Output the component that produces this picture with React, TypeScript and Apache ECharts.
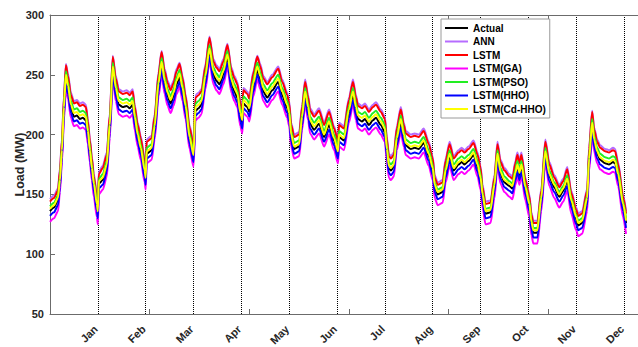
import React, { useEffect, useRef } from 'react';
import * as echarts from 'echarts';

const months = ['Jan', 'Feb', 'Mar', 'Apr', 'May', 'Jun', 'Jul', 'Aug', 'Sep', 'Oct', 'Nov', 'Dec'];

const hours = [
  0, 4, 8, 10, 12, 14, 16, 18, 21, 24, 27, 30, 33, 36, 38, 40, 42, 44, 47, 48,
  49, 53, 57, 60, 63, 66, 69, 73, 77, 80, 83, 85, 88, 91, 95, 96, 97, 102, 105, 109,
  112, 115, 118, 121, 124, 127, 130, 133, 136, 140, 144, 146, 149, 152, 156, 160, 164, 167, 170, 174,
  178, 182, 185, 188, 191, 193, 194, 198, 200, 204, 208, 211, 214, 218, 223, 229, 233, 238, 240, 242,
  245, 250, 253, 256, 259, 261, 265, 270, 275, 280, 285, 289, 290, 295, 300, 304, 307, 309, 313, 316,
  320, 324, 327, 332, 336, 338, 340, 342, 345, 348, 352, 355, 357, 362, 366, 370, 375, 380, 384, 386,
  389, 394, 397, 401, 405, 410, 413, 416, 420, 425, 429, 432, 434, 437, 442, 446, 449, 452, 456, 461,
  464, 467, 469, 471, 473, 477, 481, 483, 485, 489, 493, 497, 501, 506, 511, 515, 519, 523, 528, 530,
  534, 539, 541, 544, 546, 549, 552, 557, 561, 565, 567, 570, 575, 578,
];

const actual = [
  136, 139, 145, 160, 185, 220, 247, 238, 222, 215, 216, 213, 214, 212, 200, 185, 170, 157, 140, 134,
  159, 162, 173, 205, 254, 236, 225, 223, 224, 222, 225, 212, 198, 187, 168, 162, 184, 187, 204, 240,
  258, 242, 232, 226, 232, 242, 248, 236, 221, 196, 181, 220, 222, 225, 246, 269, 250, 245, 242, 250,
  264, 243, 236, 231, 215, 209, 226, 223, 219, 240, 254, 246, 236, 231, 237, 244, 233, 222, 215, 198,
  188, 190, 212, 233, 220, 209, 204, 209, 198, 208, 195, 184, 198, 195, 218, 233, 220, 213, 211, 213,
  208, 212, 214, 208, 202, 186, 172, 170, 173, 195, 210, 198, 191, 188, 189, 188, 193, 182, 170, 156,
  150, 152, 168, 182, 170, 175, 177, 175, 178, 183, 173, 162, 148, 134, 135, 156, 182, 167, 160, 157,
  155, 166, 173, 166, 173, 154, 140, 125, 118, 118, 145, 184, 165, 156, 148, 153, 161, 143, 129, 124,
  126, 145, 178, 207, 194, 184, 179, 176, 175, 177, 176, 165, 140, 126,
];

const ann = [
  146, 149, 155, 172, 197, 233, 259, 251, 235, 228, 229, 226, 227, 225, 213, 197, 182, 167, 150, 144,
  169, 174, 185, 218, 266, 249, 238, 236, 237, 235, 238, 225, 210, 199, 180, 174, 196, 199, 217, 253,
  270, 255, 245, 239, 245, 255, 260, 249, 234, 208, 193, 233, 235, 238, 259, 282, 263, 258, 255, 263,
  276, 256, 249, 244, 228, 222, 239, 236, 232, 253, 266, 259, 249, 244, 250, 257, 246, 235, 228, 210,
  200, 202, 225, 246, 233, 222, 217, 222, 210, 221, 207, 196, 210, 207, 231, 246, 233, 226, 224, 226,
  221, 225, 227, 221, 215, 198, 184, 182, 185, 207, 223, 210, 203, 200, 201, 200, 205, 194, 182, 166,
  160, 162, 180, 194, 182, 187, 189, 187, 190, 195, 185, 174, 158, 144, 145, 166, 194, 179, 172, 167,
  165, 178, 185, 178, 185, 164, 150, 135, 128, 128, 155, 196, 177, 166, 158, 163, 173, 153, 139, 134,
  136, 155, 190, 220, 206, 196, 191, 188, 187, 189, 188, 177, 150, 136,
];

const lstm = [
  144, 147, 153, 170, 195, 231, 258, 249, 233, 226, 227, 224, 225, 223, 211, 195, 180, 165, 148, 142,
  167, 172, 183, 216, 265, 247, 236, 234, 235, 233, 236, 223, 208, 197, 178, 172, 194, 197, 215, 251,
  269, 253, 243, 237, 243, 253, 259, 247, 232, 206, 191, 231, 233, 236, 257, 281, 261, 256, 253, 261,
  275, 254, 247, 242, 226, 220, 237, 234, 230, 251, 265, 257, 247, 242, 248, 255, 244, 233, 226, 208,
  198, 200, 223, 244, 231, 220, 215, 220, 208, 219, 205, 194, 208, 205, 229, 244, 231, 224, 222, 224,
  219, 223, 225, 219, 213, 196, 182, 180, 183, 205, 221, 208, 201, 198, 199, 198, 203, 192, 180, 164,
  158, 160, 178, 192, 180, 185, 187, 185, 188, 193, 183, 172, 156, 142, 143, 164, 192, 177, 170, 165,
  163, 176, 183, 176, 183, 162, 148, 133, 126, 126, 153, 194, 175, 164, 156, 161, 171, 151, 137, 132,
  134, 153, 188, 219, 204, 194, 189, 186, 185, 187, 186, 175, 148, 134,
];

const lstmGa = [
  127, 130, 136, 152, 177, 212, 239, 230, 214, 207, 208, 205, 206, 204, 192, 177, 162, 148, 131, 125,
  150, 154, 165, 197, 246, 228, 217, 215, 216, 214, 217, 204, 190, 179, 160, 154, 176, 179, 196, 232,
  250, 234, 224, 218, 224, 234, 240, 228, 213, 188, 173, 212, 214, 217, 238, 261, 242, 237, 234, 242,
  256, 235, 228, 223, 207, 201, 218, 215, 211, 232, 246, 238, 228, 223, 229, 236, 225, 214, 207, 190,
  180, 182, 204, 225, 212, 201, 196, 201, 190, 200, 187, 176, 190, 187, 210, 225, 212, 205, 203, 205,
  200, 204, 206, 200, 194, 178, 164, 162, 165, 187, 202, 190, 183, 180, 181, 180, 185, 174, 162, 147,
  141, 143, 160, 174, 162, 167, 169, 167, 170, 175, 165, 154, 139, 125, 126, 147, 174, 159, 152, 148,
  146, 158, 165, 158, 165, 145, 131, 116, 109, 109, 136, 176, 157, 147, 139, 144, 153, 134, 120, 115,
  117, 136, 170, 199, 186, 176, 171, 168, 167, 169, 168, 157, 131, 117,
];

const lstmPso = [
  140, 143, 149, 165, 190, 226, 253, 244, 228, 221, 222, 219, 220, 218, 206, 190, 175, 161, 144, 138,
  163, 167, 178, 211, 260, 242, 231, 229, 230, 228, 231, 218, 203, 192, 173, 167, 189, 192, 210, 246,
  264, 248, 238, 232, 238, 248, 254, 242, 227, 201, 186, 226, 228, 231, 252, 275, 256, 251, 248, 256,
  270, 249, 242, 237, 221, 215, 232, 229, 225, 246, 260, 252, 242, 237, 243, 250, 239, 228, 221, 203,
  193, 195, 218, 239, 226, 215, 210, 215, 203, 214, 200, 189, 203, 200, 224, 239, 226, 219, 217, 219,
  214, 218, 220, 214, 208, 191, 177, 175, 178, 200, 216, 203, 196, 193, 194, 193, 198, 187, 175, 160,
  154, 156, 173, 187, 175, 180, 182, 180, 183, 188, 178, 167, 152, 138, 139, 160, 187, 172, 165, 161,
  159, 171, 178, 171, 178, 158, 144, 129, 122, 122, 149, 189, 170, 160, 152, 157, 166, 147, 133, 128,
  130, 149, 183, 213, 199, 189, 184, 181, 180, 182, 181, 170, 144, 130,
];

const lstmHho = [
  132, 135, 141, 156, 181, 216, 243, 234, 218, 211, 212, 209, 210, 208, 196, 181, 166, 153, 136, 130,
  155, 158, 169, 201, 250, 232, 221, 219, 220, 218, 221, 208, 194, 183, 164, 158, 180, 183, 200, 236,
  254, 238, 228, 222, 228, 238, 244, 232, 217, 192, 177, 216, 218, 221, 242, 265, 246, 241, 238, 246,
  260, 239, 232, 227, 211, 205, 222, 219, 215, 236, 250, 242, 232, 227, 233, 240, 229, 218, 211, 194,
  184, 186, 208, 229, 216, 205, 200, 205, 194, 204, 191, 180, 194, 191, 214, 229, 216, 209, 207, 209,
  204, 208, 210, 204, 198, 182, 168, 166, 169, 191, 206, 194, 187, 184, 185, 184, 189, 178, 166, 152,
  146, 148, 164, 178, 166, 171, 173, 171, 174, 179, 169, 158, 144, 130, 131, 152, 178, 163, 156, 153,
  151, 162, 169, 162, 169, 150, 136, 121, 114, 114, 141, 180, 161, 152, 144, 149, 157, 139, 125, 120,
  122, 141, 174, 203, 190, 180, 175, 172, 171, 173, 172, 161, 136, 122,
];

const lstmCdHho = [
  138, 141, 147, 162, 187, 223, 250, 241, 225, 218, 219, 216, 217, 215, 203, 187, 172, 159, 142, 136,
  161, 164, 175, 208, 257, 239, 228, 226, 227, 225, 228, 215, 200, 189, 170, 164, 186, 189, 207, 243,
  261, 245, 235, 229, 235, 245, 251, 239, 224, 198, 183, 223, 225, 228, 249, 272, 253, 248, 245, 253,
  267, 246, 239, 234, 218, 212, 229, 226, 222, 243, 257, 249, 239, 234, 240, 247, 236, 225, 218, 200,
  190, 192, 215, 236, 223, 212, 207, 212, 200, 211, 197, 186, 200, 197, 221, 236, 223, 216, 214, 216,
  211, 215, 217, 211, 205, 188, 174, 172, 175, 197, 213, 200, 193, 190, 191, 190, 195, 184, 172, 158,
  152, 154, 170, 184, 172, 177, 179, 177, 180, 185, 175, 164, 150, 136, 137, 158, 184, 169, 162, 159,
  157, 168, 175, 168, 175, 156, 142, 127, 120, 120, 147, 186, 167, 158, 150, 155, 163, 145, 131, 126,
  128, 147, 180, 210, 196, 186, 181, 178, 177, 179, 178, 167, 142, 128,
];

const seriesNames = ['Actual', 'ANN', 'LSTM', 'LSTM(GA)', 'LSTM(PSO)', 'LSTM(HHO)', 'LSTM(Cd-HHO)'];
const seriesColors = ['#000000', '#b66cff', '#ff0000', '#ff00ff', '#22ee22', '#0000ff', '#ffff00'];

const FONT = '"Liberation Sans", Arial, Helvetica, sans-serif';

export default function App() {
  const ref = useRef<HTMLDivElement>(null);

  useEffect(() => {
    if (!ref.current) return;
    const chart = echarts.init(ref.current, null, { renderer: 'svg' });
    const values = [actual, ann, lstm, lstmGa, lstmPso, lstmHho, lstmCdHho];
    const axisGrey = '#6b6b6b';
    const textColor = '#262626';

    chart.setOption({
      animation: false,
      backgroundColor: '#ffffff',
      textStyle: { fontFamily: FONT },
      grid: { left: 50, top: 15, width: 590, height: 299, containLabel: false, outerBoundsMode: 'none' },
      legend: {
        orient: 'vertical',
        left: 441,
        top: 19,
        padding: [3, 4, 3, 4],
        itemGap: 1.5,
        itemWidth: 23,
        itemHeight: 2,
        icon: 'rect',
        backgroundColor: '#ffffff',
        borderColor: '#9a9a9a',
        borderWidth: 1,
        textStyle: { fontWeight: 'bold', fontSize: 10, lineHeight: 12, color: '#000', fontFamily: FONT },
        data: seriesNames,
      },
      xAxis: [
        {
          type: 'value', min: 0, max: 592, interval: 100, position: 'bottom',
          axisLine: { show: true, lineStyle: { color: axisGrey, width: 1 } },
          axisTick: { show: true, inside: true, length: 5, lineStyle: { color: axisGrey } },
          axisLabel: { show: false },
          splitLine: { show: false },
        },
        {
          type: 'value', min: 0, max: 592, interval: 48, position: 'bottom',
          axisLine: { show: false },
          axisTick: { show: false },
          axisLabel: {
            show: true, rotate: 45, margin: 11, padding: [0, 3, 0, 0],
            fontWeight: 'bold', fontSize: 11, color: textColor, fontFamily: FONT,
            formatter: (v: number) => {
              const i = Math.round(v / 48);
              return Math.abs(v - i * 48) < 0.01 && i >= 1 && i <= 12 ? months[i - 1] : '';
            },
          },
          splitLine: { show: true, showMinLine: false, showMaxLine: false, lineStyle: { color: '#000', type: 'dotted', width: 1 } },
        },
        {
          type: 'value', min: 0, max: 592, interval: 100, position: 'top',
          axisLine: { show: true, lineStyle: { color: axisGrey, width: 1 } },
          axisTick: { show: true, inside: true, length: 5, lineStyle: { color: axisGrey } },
          axisLabel: { show: false },
          splitLine: { show: false },
        },
      ],
      yAxis: {
        type: 'value', min: 50, max: 300, interval: 50,
        name: 'Load (MW)', nameLocation: 'middle', nameGap: 24, nameMoveOverlap: false,
        nameTextStyle: { fontWeight: 'bold', fontSize: 12.5, color: textColor, fontFamily: FONT },
        axisLine: { show: true, lineStyle: { color: axisGrey, width: 1 } },
        axisTick: { show: true, inside: true, length: 5, lineStyle: { color: axisGrey } },
        axisLabel: { fontWeight: 'bold', fontSize: 11, margin: 6, color: textColor, fontFamily: FONT },
        splitLine: { show: false },
      },
      series: seriesNames.map((name, k) => ({
        type: 'line',
        name,
        xAxisIndex: 0,
        data: hours.map((h, i) => [h, values[k][i]]),
        showSymbol: false,
        symbol: 'none',
        smooth: 0.25,
        smoothMonotone: 'x',
        lineStyle: { width: 2, color: seriesColors[k] },
        itemStyle: { color: seriesColors[k] },
      })),
    });

    return () => chart.dispose();
  }, []);

  return (
    <div
      ref={ref}
      style={{ position: 'fixed', left: 0, top: 0, width: 638, height: 347, background: '#fff' }}
    />
  );
}
